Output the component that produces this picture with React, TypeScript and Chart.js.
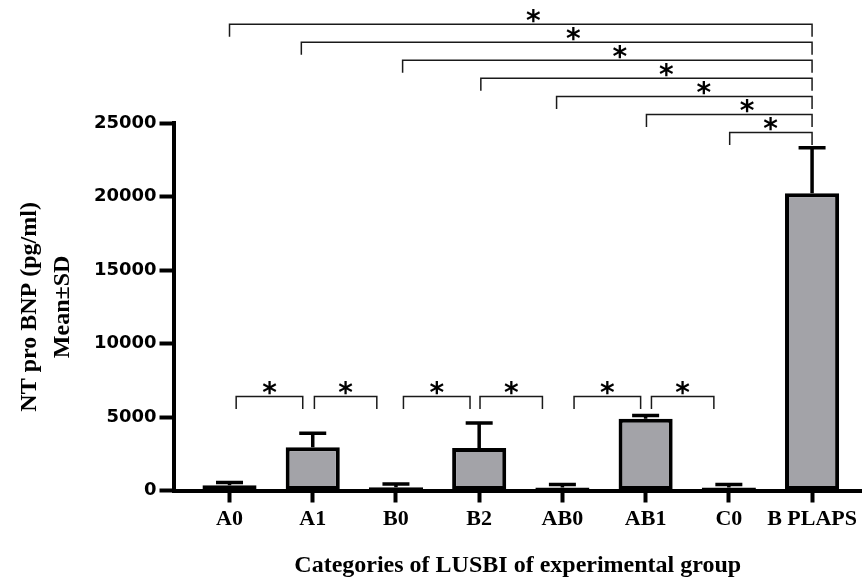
import React, { useEffect, useRef } from 'react';
import { Chart, registerables } from 'chart.js';

Chart.register(...registerables);

// ---- data ----
const categories = ['A0', 'A1', 'B0', 'B2', 'AB0', 'AB1', 'C0', 'B PLAPS'];
const means = [350, 2950, 220, 2900, 200, 4880, 200, 20230];
const sds = [200, 950, 220, 1700, 200, 230, 200, 3100];
const yTicks = [0, 5000, 10000, 15000, 20000, 25000];

// pairwise significance brackets (x in category-index units, y in pg/ml)
const pairStart = [0.08, 1.02, 2.09, 3.01, 4.14, 5.07];
const pairEnd = [0.88, 1.77, 2.89, 3.76, 4.94, 5.82];
const pairLevel = [6400, 6400, 6400, 6400, 6400, 6400];
const pairMark = ['*', '*', '*', '*', '*', '*'];

// brackets versus B PLAPS
const topStart = [0.0, 0.863, 2.08, 3.02, 3.93, 5.01, 6.01];
const topEnd = [7, 7, 7, 7, 7, 7, 7];
const topLevel = [31750, 30520, 29290, 28060, 26830, 25600, 24370];
const topMarkX = [3.65, 4.13, 4.69, 5.25, 5.7, 6.22, 6.5];
const topMark = ['*', '*', '*', '*', '*', '*', '*'];

const SERIF = '"Liberation Serif", "Times New Roman", serif';

export default function App() {
  const ref = useRef<HTMLCanvasElement>(null);

  useEffect(() => {
    const canvas = ref.current;
    if (!canvas) return;

    const errorBars = {
      id: 'errorBars',
      afterDatasetsDraw(chart: any) {
        const { ctx } = chart;
        const ys = chart.scales.y;
        const meta = chart.getDatasetMeta(0);
        ctx.save();
        ctx.strokeStyle = '#000';
        ctx.lineWidth = 3.5;
        meta.data.forEach((bar: any, i: number) => {
          const top = ys.getPixelForValue(means[i]);
          const end = ys.getPixelForValue(means[i] + sds[i]);
          ctx.beginPath();
          ctx.moveTo(bar.x, top);
          ctx.lineTo(bar.x, end);
          ctx.moveTo(bar.x - 13.5, end);
          ctx.lineTo(bar.x + 13.5, end);
          ctx.stroke();
        });
        ctx.restore();
      },
    };

    const brackets = {
      id: 'brackets',
      afterDraw(chart: any) {
        const { ctx } = chart;
        const xs = chart.scales.x;
        const ys = chart.scales.y;
        const leg = 12.5;
        const fs = 28;
        ctx.save();
        ctx.strokeStyle = '#1a1a1a';
        ctx.lineWidth = 1.5;
        ctx.fillStyle = '#000';
        ctx.font = `bold ${fs}px "DejaVu Sans", sans-serif`;
        ctx.textAlign = 'center';
        ctx.textBaseline = 'alphabetic';
        const draw = (a: number, b: number, lvl: number, mx: number, mark: string) => {
          const x1 = xs.getPixelForValue(a);
          const x2 = xs.getPixelForValue(b);
          const y = ys.getPixelForValue(lvl);
          ctx.beginPath();
          ctx.moveTo(x1, y + leg);
          ctx.lineTo(x1, y);
          ctx.lineTo(x2, y);
          ctx.lineTo(x2, y + leg);
          ctx.stroke();
          const sx = xs.getPixelForValue(mx);
          const sy = y - 10;
          ctx.fillText(mark, sx, sy + 0.55 * fs);
        };
        pairStart.forEach((s, i) =>
          draw(s, pairEnd[i], pairLevel[i], (s + pairEnd[i]) / 2, pairMark[i])
        );
        topStart.forEach((s, i) => draw(s, topEnd[i], topLevel[i], topMarkX[i], topMark[i]));
        ctx.restore();
      },
    };

    const chart = new Chart(canvas, {
      type: 'bar',
      data: {
        datasets: [
          {
            data: categories.map((_, i) => ({ x: i, y: means[i] })),
            backgroundColor: '#a3a3a8',
            borderColor: '#000',
            borderWidth: 4,
            borderSkipped: false,
            barPercentage: 0.65,
            categoryPercentage: 1,
          },
        ],
      },
      options: {
        animation: false,
        responsive: true,
        maintainAspectRatio: false,
        layout: { padding: { top: 123.3, left: 0, right: 0, bottom: 0 } },
        plugins: {
          legend: { display: false },
          tooltip: { enabled: false },
        },
        scales: {
          x: {
            type: 'linear',
            min: -0.673,
            max: 7.6,
            offset: false,
            z: 1,
            afterFit: (s: any) => {
              s.height = 90.5;
            },
            afterBuildTicks: (s: any) => {
              s.ticks = categories.map((_, i) => ({ value: i }));
            },
            grid: {
              offset: false,
              drawOnChartArea: false,
              drawTicks: true,
              tickLength: 12,
              tickWidth: 4,
              tickColor: '#000',
            },
            border: { display: true, width: 4, color: '#000' },
            ticks: {
              autoSkip: false,
              maxRotation: 0,
              padding: 4,
              color: '#000',
              font: { family: SERIF, weight: 'bold', size: 22 },
              callback: (v: any) => categories[v] ?? '',
            },
            title: {
              display: true,
              text: 'Categories of LUSBI of experimental group',
              color: '#000',
              font: { family: SERIF, weight: 'bold', size: 24, lineHeight: 1.2 },
              padding: { top: 0, bottom: 1 },
            },
          },
          y: {
            min: 0,
            max: 25000,
            z: 1,
            afterFit: (s: any) => {
              s.width = 173.5;
            },
            afterBuildTicks: (s: any) => {
              s.ticks = yTicks.map((v) => ({ value: v }));
            },
            grid: {
              drawOnChartArea: false,
              drawTicks: true,
              tickLength: 14,
              tickWidth: 4,
              tickColor: '#000',
            },
            border: { display: true, width: 4, color: '#000' },
            ticks: {
              padding: 3,
              color: '#000',
              font: { family: '"DejaVu Sans", sans-serif', weight: 'bold', size: 18 },
              callback: (v: any) => String(v),
            },
            title: {
              display: true,
              text: ['NT pro BNP (pg/ml)', 'Mean±SD'],
              color: '#000',
              font: { family: SERIF, weight: 'bold', size: 24, lineHeight: 1.375 },
              padding: { top: 13.5, bottom: 0 },
            },
          },
        },
      },
      plugins: [errorBars, brackets],
    } as any);

    return () => chart.destroy();
  }, []);

  return (
    <div style={{ position: 'absolute', left: 0, top: 0, width: 862, height: 581 }}>
      <canvas ref={ref} />
    </div>
  );
}
